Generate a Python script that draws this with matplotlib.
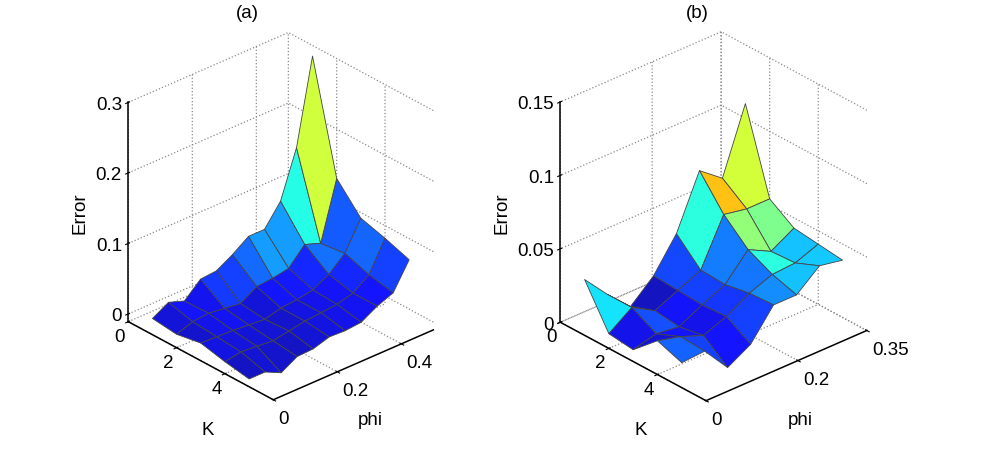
import numpy as np
import matplotlib
matplotlib.use("Agg")
import matplotlib.pyplot as plt
from matplotlib import colors as mcolors
from mpl_toolkits.mplot3d import proj3d

plt.rcParams.update(
    {
        "font.family": ["Liberation Sans", "DejaVu Sans"],
        "font.size": 13.5,
        "grid.color": "#8a8a8a",
        "grid.linestyle": ":",
        "grid.linewidth": 0.9,
    }
)

W, H = 981, 452

# grid of the two runs
K_VALUES = [1, 2, 3, 4, 5]
PHI_A = [0.0, 0.05, 0.10, 0.15, 0.20, 0.25, 0.30, 0.35, 0.40, 0.45, 0.50]
PHI_B = [0.0, 0.05, 0.10, 0.15, 0.20, 0.25, 0.30, 0.35]

# error, one row per K value
ERROR_A = [
    [0.012, 0.025, 0.017, 0.038, 0.040, 0.053, 0.069, 0.069, 0.099, 0.165, 0.285],
    [0.008, 0.016, 0.018, 0.015, 0.012, 0.026, 0.028, 0.032, 0.056, 0.048, 0.130],
    [0.014, 0.013, 0.012, 0.010, 0.008, 0.014, 0.016, 0.020, 0.032, 0.052, 0.092],
    [0.006, 0.010, 0.008, 0.006, 0.010, 0.014, 0.016, 0.018, 0.024, 0.040, 0.082],
    [0.000, 0.000, -0.011, 0.002, 0.003, 0.010, 0.009, 0.011, 0.024, 0.033, 0.070],
]
ERROR_B = [
    [0.038, 0.021, 0.006, 0.020, 0.042, 0.078, 0.066, 0.110],
    [0.010, 0.021, 0.012, 0.019, 0.026, 0.057, 0.054, 0.054],
    [0.008, 0.012, 0.010, 0.018, 0.025, 0.042, 0.034, 0.043],
    [0.023, 0.019, 0.013, 0.019, 0.028, 0.034, 0.035, 0.041],
    [0.017, 0.018, 0.000, 0.009, 0.029, 0.029, 0.042, 0.039],
]

K_LIM = (0, 6)
K_TICKS = [0, 2, 4]
PHI_LIM_A = (0, 0.5)
PHI_TICKS_A = [0, 0.2, 0.4]
PHI_LABELS_A = ["0", "0.2", "0.4"]
PHI_LIM_B = (0, 0.35)
PHI_TICKS_B = [0, 0.2, 0.35]
PHI_LABELS_B = ["0", "0.2", "0.35"]
Z_TOP_A = 0.3
Z_TICKS_A = [0, 0.1, 0.2, 0.3]
Z_LABELS_A = ["0", "0.1", "0.2", "0.3"]
Z_TOP_B = 0.15
Z_TICKS_B = [0, 0.05, 0.1, 0.15]
Z_LABELS_B = ["0", "0.05", "0.1", "0.15"]


def surface_panel(ax, phi, err, phi_lim, phi_ticks, phi_labels, z_top, z_ticks, z_labels):
    kk, pp = np.meshgrid(K_VALUES, phi, indexing="ij")
    zz = np.array(err)
    norm = mcolors.Normalize(zz.min(), zz.max())
    fc = plt.cm.jet(norm(zz))
    fc[..., :3] = 0.92 * fc[..., :3] + 0.08  # a touch lighter, like the original render
    ax.plot_surface(kk, pp, zz, facecolors=fc, rstride=1, cstride=1, shade=False,
                    linewidth=0.6, edgecolor="#444444", antialiased=True)
    ax.set_proj_type("ortho")
    ax.view_init(elev=29, azim=-42)
    ax.set_box_aspect((1, 0.994, 1.157))
    ax.set_xlim(*K_LIM)
    ax.set_ylim(*phi_lim)
    ax.set_zlim(zz.min(), z_top)
    ax.set_xticks(K_TICKS, [str(k) for k in K_TICKS])
    ax.set_yticks(phi_ticks, phi_labels)
    ax.set_zticks(z_ticks, z_labels)
    ax.zaxis.set_ticks_position("lower")
    for axis in (ax.xaxis, ax.yaxis, ax.zaxis):
        axis.set_pane_color((1, 1, 1, 0))
        axis.pane.set_edgecolor((1, 1, 1, 0))
        axis.line.set_color("black")
        axis.line.set_linewidth(1.1)
    ax.tick_params(labelsize=13.5, colors="black", pad=-5)
    ax.tick_params(axis="y", pad=-3)
    for lab in ax.get_xticklabels():
        lab.set_ha("right")
    for lab in ax.get_yticklabels():
        lab.set_ha("left")
    for lab in ax.get_zticklabels():
        lab.set_ha("right")
        lab.set_va("center_baseline")
    return zz


def fit_axes(ax, corners, targets):
    # move / scale the axes so the box corners land where the reference has them
    fig = ax.figure
    fig.canvas.draw()
    pts = []
    for x, y, z in corners:
        px, py, _ = proj3d.proj_transform(x, y, z, ax.M)
        pts.append(ax.transData.transform((float(px), float(py))))
    pts = np.array(pts)
    bb = ax.get_position().transformed(fig.transFigure)
    rel = pts - np.array([bb.x0, bb.y0])
    tgt = np.array([(tx, H - ty) for tx, ty in targets])
    n = len(rel)
    A = np.zeros((2 * n, 3))
    A[:n, 0] = rel[:, 0]
    A[:n, 1] = 1
    A[n:, 0] = rel[:, 1]
    A[n:, 2] = 1
    b = np.concatenate([tgt[:, 0], tgt[:, 1]])
    s, ox, oy = np.linalg.lstsq(A, b, rcond=None)[0]
    ax.set_position([ox / W, oy / H, s * bb.width / W, s * bb.height / H])


fig = plt.figure(figsize=(W / 100, H / 100), dpi=100)
ax_a = fig.add_axes([0.02, 0.0, 452 / W, 1.0], projection="3d")
ax_b = fig.add_axes([0.48, 0.0, 452 / W, 1.0], projection="3d")

za = surface_panel(ax_a, PHI_A, ERROR_A, PHI_LIM_A, PHI_TICKS_A, PHI_LABELS_A,
                   Z_TOP_A, Z_TICKS_A, Z_LABELS_A)
zb = surface_panel(ax_b, PHI_B, ERROR_B, PHI_LIM_B, PHI_TICKS_B, PHI_LABELS_B,
                   Z_TOP_B, Z_TICKS_B, Z_LABELS_B)

fit_axes(ax_a,
         [(0, 0, za.min()), (6, 0, za.min()), (6, 0.5, za.min()), (0, 0, Z_TOP_A)],
         [(128.3, 322.7), (273.3, 400.7), (433.3, 331.0), (128.3, 103.3)])
fit_axes(ax_b,
         [(0, 0, zb.min()), (6, 0, zb.min()), (6, 0.35, zb.min()), (0, 0, Z_TOP_B)],
         [(560.0, 322.7), (706.7, 401.7), (866.7, 331.7), (560.0, 103.3)])

fig.text(247 / W, 1 - 14 / H, "(a)", ha="center", va="center", fontsize=13.5)
fig.text(697 / W, 1 - 14 / H, "(b)", ha="center", va="center", fontsize=13.5)
fig.text(80 / W, 1 - 213 / H, "Error", rotation=90, ha="center", va="center", fontsize=13.5)
fig.text(502 / W, 1 - 213 / H, "Error", rotation=90, ha="center", va="center", fontsize=13.5)
fig.text(208 / W, 1 - 431 / H, "K", ha="center", va="center", fontsize=13.5)
fig.text(641 / W, 1 - 431 / H, "K", ha="center", va="center", fontsize=13.5)
fig.text(370 / W, 1 - 421 / H, "phi", ha="center", va="center", fontsize=13.5)
fig.text(800 / W, 1 - 421 / H, "phi", ha="center", va="center", fontsize=13.5)

fig.savefig("out.png", dpi=100)
